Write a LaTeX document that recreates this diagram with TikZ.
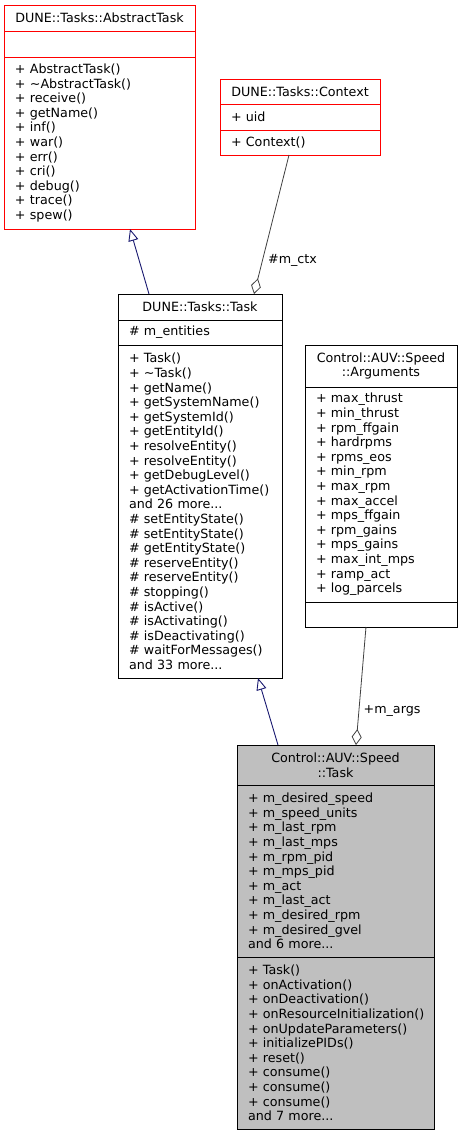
\documentclass[tikz,border=0pt]{standalone}
\usepackage{fontspec}
\setmainfont{DejaVu Sans}
\usepackage{tikz}
\usetikzlibrary{positioning,arrows.meta}
\hyphenpenalty=10000

\tikzset{
  box/.style={draw, line width=1pt, fill=white, inner xsep=11pt, inner ysep=0pt,
    outer sep=0pt, font=\fontsize{12.7}{14.6}\selectfont},
  head/.style={box, align=center},
  body/.style={box, align=left},
  inherit/.style={draw={rgb,255:red,25;green,25;blue,112}, line width=0.9pt,
    -{Triangle[open, length=12pt, width=10pt]}},
  aggr/.style={draw={rgb,255:red,64;green,64;blue,64}, line width=0.8pt,
    -{Diamond[open, length=16pt, width=10pt]}},
  role/.style={font=\fontsize{12.7}{14.6}\selectfont, anchor=west}
}

\begin{document}
\begin{tikzpicture}[x=1pt, y=-1pt]
\useasboundingbox (0,0) rectangle (463,1136);

% DUNE::Tasks::AbstractTask
\node[head, draw=red, text width=169pt, minimum height=26pt, anchor=north west] (abstract) at (4,5) {DUNE::Tasks::AbstractTask};
\node[body, draw=red, text width=169pt, minimum height=26pt, below=0pt of abstract] (abstractAttr) {};
\node[body, draw=red, text width=169pt, minimum height=172pt, below=0pt of abstractAttr] (abstractOps)
  {+~AbstractTask()\\+~\textasciitilde AbstractTask()\\+~receive()\\+~getName()\\+~inf()\\+~war()\\+~err()\\+~cri()\\+~debug()\\+~trace()\\+~spew()};

% DUNE::Tasks::Context
\node[head, draw=red, text width=138pt, minimum height=25pt, anchor=north west] (context) at (220,79) {DUNE::Tasks::Context};
\node[body, draw=red, text width=138pt, minimum height=26pt, below=0pt of context] (contextAttr) {+~uid};
\node[body, draw=red, text width=138pt, minimum height=25pt, below=0pt of contextAttr] (contextOps) {+~Context()};

% DUNE::Tasks::Task
\node[head, text width=142pt, minimum height=26pt, anchor=north west] (task) at (118,294) {DUNE::Tasks::Task};
\node[body, text width=142pt, minimum height=25pt, below=0pt of task] (taskAttr) {\#~m\_entities};
\node[body, text width=142pt, minimum height=333pt, below=0pt of taskAttr] (taskOps)
  {+~Task()\\+~\textasciitilde Task()\\+~getName()\\+~getSystemName()\\+~getSystemId()\\+~getEntityId()\\+~resolveEntity()\\+~resolveEntity()\\+~getDebugLevel()\\+~getActivationTime()\\and~26~more...\\\#~setEntityState()\\\#~setEntityState()\\\#~getEntityState()\\\#~reserveEntity()\\\#~reserveEntity()\\\#~stopping()\\\#~isActive()\\\#~isActivating()\\\#~isDeactivating()\\\#~waitForMessages()\\and~33~more...};

% Control::AUV::Speed::Arguments
\node[head, text width=130pt, minimum height=42pt, anchor=north west] (args) at (305,345) {Control::AUV::Speed\\::Arguments};
\node[body, text width=130pt, minimum height=215pt, below=0pt of args] (argsAttr)
  {+~max\_thrust\\+~min\_thrust\\+~rpm\_ffgain\\+~hardrpms\\+~rpms\_eos\\+~min\_rpm\\+~max\_rpm\\+~max\_accel\\+~mps\_ffgain\\+~rpm\_gains\\+~mps\_gains\\+~max\_int\_mps\\+~ramp\_act\\+~log\_parcels};
\node[body, text width=130pt, minimum height=25pt, below=0pt of argsAttr] (argsOps) {};

% Control::AUV::Speed::Task
\node[head, fill=black!25, text width=175pt, minimum height=40pt, anchor=north west] (speed) at (237,745) {Control::AUV::Speed\\::Task};
\node[body, fill=black!25, text width=175pt, minimum height=172pt, below=0pt of speed] (speedAttr)
  {+~m\_desired\_speed\\+~m\_speed\_units\\+~m\_last\_rpm\\+~m\_last\_mps\\+~m\_rpm\_pid\\+~m\_mps\_pid\\+~m\_act\\+~m\_last\_act\\+~m\_desired\_rpm\\+~m\_desired\_gvel\\and~6~more...};
\node[body, fill=black!25, text width=175pt, minimum height=172pt, below=0pt of speedAttr] (speedOps)
  {+~Task()\\+~onActivation()\\+~onDeactivation()\\+~onResourceInitialization()\\+~onUpdateParameters()\\+~initializePIDs()\\+~reset()\\+~consume()\\+~consume()\\+~consume()\\and~7~more...};

% relations
\draw[inherit] ([xshift=-51pt]task.north) -- ([xshift=30.5pt]abstractOps.south);
\draw[aggr] ([xshift=-11pt]contextOps.south) -- ([xshift=54pt]task.north)
  node[role, pos=0.76, xshift=2pt] (ctxRole) {\#m\_ctx};
\draw[inherit] ([xshift=-57.5pt]speed.north) -- ([xshift=58pt]taskOps.south);
\draw[aggr] ([xshift=-15pt]argsOps.south) -- ([xshift=20.5pt]speed.north)
  node[role, pos=0.71, xshift=1pt] (argsRole) {+m\_args};
\end{tikzpicture}
\end{document}
